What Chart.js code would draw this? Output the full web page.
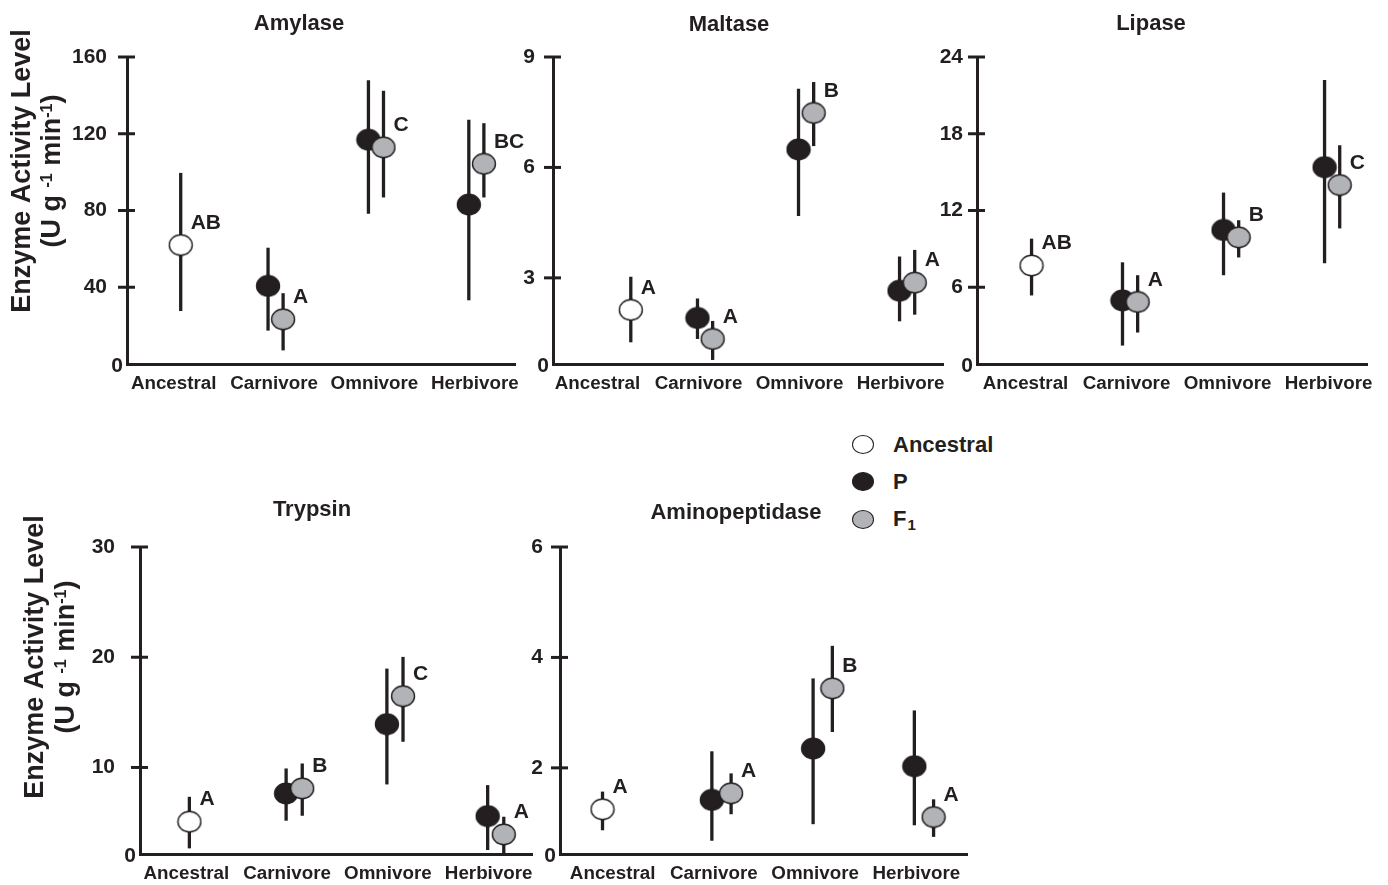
<!DOCTYPE html>
<html>
<head>
<meta charset="utf-8">
<title>Digestive enzyme activity</title>
<script src="https://cdn.jsdelivr.net/npm/chart.js@4.4.1/dist/chart.umd.min.js"></script>
<style>
  body { margin: 0; background: #fff; }
  #page { position: relative; width: 1388px; height: 885px; overflow: hidden;
          font-family: "Liberation Sans", Arial, Helvetica, sans-serif; color: #231f20; }
  #page canvas { position: absolute; }
  .legend { position: absolute; left: 852px; top: 426px; font-weight: bold; font-size: 22px; }
  .legend div { display: flex; align-items: center; height: 37.3px; }
  .dot { display: inline-block; width: 22px; height: 19px; border-radius: 50%; box-sizing: border-box;
         border: 1.5px solid #231f20; margin-right: 19px; }
  .legend sub { font-size: 15px; line-height: 0; position: relative; top: 6px; vertical-align: baseline; margin-left: 1px; }
</style>
</head>
<body>
<div id="page">
  <div class="legend">
    <div><span class="dot" style="background:#ffffff"></span>Ancestral</div>
    <div><span class="dot" style="background:#231f20"></span>P</div>
    <div><span class="dot" style="background:#b1b3b6"></span>F<sub>1</sub></div>
  </div>
</div>
<script>
const groups = ['Ancestral', 'Carnivore', 'Omnivore', 'Herbivore'];

// every row is [mean, bottom of bar, top of bar]; P and F1 rows are Carnivore, Omnivore, Herbivore
const amylaseAncestral = [62.0, 27.6, 99.6];
const amylaseP = [[40.7, 17.4, 60.6], [116.9, 78.3, 147.9], [83.1, 33.2, 127.3]];
const amylaseF1 = [[23.3, 7.1, 36.9], [112.9, 86.8, 142.4], [104.3, 86.8, 125.5]];
const amylaseLetters = ['AB', 'A', 'C', 'BC'];
const amylaseTicks = [0, 40, 80, 120, 160];

const maltaseAncestral = [2.13, 1.25, 3.03];
const maltaseP = [[1.91, 1.34, 2.44], [6.49, 4.68, 8.14], [2.65, 1.82, 3.58]];
const maltaseF1 = [[1.34, 0.77, 1.83], [7.48, 6.58, 8.32], [2.87, 2.0, 3.76]];
const maltaseLetters = ['A', 'A', 'B', 'A'];
const maltaseTicks = [0, 3, 6, 9];

const lipaseAncestral = [7.7, 5.36, 9.8];
const lipaseP = [[4.97, 1.44, 7.95], [10.48, 6.94, 13.4], [15.39, 7.87, 22.2]];
const lipaseF1 = [[4.85, 2.46, 6.94], [9.9, 8.33, 11.24], [13.99, 10.6, 17.1]];
const lipaseLetters = ['AB', 'A', 'B', 'C'];
const lipaseTicks = [0, 6, 12, 18, 24];

const trypsinAncestral = [5.08, 2.66, 7.34];
const trypsinP = [[7.64, 5.17, 9.91], [13.93, 8.46, 18.97], [5.59, 2.51, 8.40]];
const trypsinF1 = [[8.10, 5.62, 10.36], [16.47, 12.33, 20.03], [3.93, 2.15, 5.53]];
const trypsinLetters = ['A', 'B', 'C', 'A'];
const trypsinTicks = [0, 10, 20, 30];

const aminoAncestral = [1.25, 0.87, 1.57];
const aminoP = [[1.42, 0.68, 2.30], [2.35, 0.98, 3.62], [2.03, 0.96, 3.04]];
const aminoF1 = [[1.54, 1.16, 1.90], [3.44, 2.65, 4.21], [1.11, 0.75, 1.43]];
const aminoLetters = ['A', 'A', 'B', 'A'];
const aminoTicks = [0, 2, 4, 6];

const INK = '#231f20';
const GREY = '#b1b3b6';
const FAMILY = '"Liberation Sans", Arial, Helvetica, sans-serif';

Chart.defaults.font.family = FAMILY;
Chart.defaults.color = INK;

// floor: in three of the panels the drawn axis sits a bit above the true zero
// (the last interval is shorter than the others) but is still labelled 0
const panels = [
  { title: 'Amylase', anc: amylaseAncestral, p: amylaseP, f1: amylaseF1, letters: amylaseLetters, ticks: amylaseTicks, floor: 0,
    box: [0, 0, 540, 420], area: [127, 57, 515, 364], xRange: [-0.465, 3.40], dodge: [0.07, -0.06, 0.09],
    tickGap: 20, titleAt: [299, 30], yTitle: [30, 60, 171] },
  { title: 'Maltase', anc: maltaseAncestral, p: maltaseP, f1: maltaseF1, letters: maltaseLetters, ticks: maltaseTicks, floor: 0.66,
    box: [480, 0, 475, 420], area: [553, 57, 943, 364], xRange: [-0.44, 3.42], dodge: [0.33, -0.01, 0.14],
    tickGap: 18, titleAt: [729, 31] },
  { title: 'Lipase', anc: lipaseAncestral, p: lipaseP, f1: lipaseF1, letters: lipaseLetters, ticks: lipaseTicks, floor: 0,
    box: [910, 0, 478, 420], area: [977, 57, 1367, 364], xRange: [-0.48, 3.38], dodge: [0.06, -0.04, 0.11],
    tickGap: 14, titleAt: [1151, 30] },
  { title: 'Trypsin', anc: trypsinAncestral, p: trypsinP, f1: trypsinF1, letters: trypsinLetters, ticks: trypsinTicks, floor: 2.15,
    box: [0, 470, 560, 440], area: [140, 547, 532, 854], xRange: [-0.46, 3.43], dodge: [0.03, -0.01, 0.15],
    tickGap: 25, titleAt: [312, 516], yTitle: [43, 74, 657] },
  { title: 'Aminopeptidase', anc: aminoAncestral, p: aminoP, f1: aminoF1, letters: aminoLetters, ticks: aminoTicks, floor: 0.44,
    box: [490, 470, 500, 440], area: [560, 547, 967, 854], xRange: [-0.52, 3.5], dodge: [-0.10, -0.02, 0.17],
    tickGap: 17, titleAt: [736, 519] },
];

function ellipseMark(fill) {
  const c = document.createElement('canvas');
  c.width = 26; c.height = 23;
  const g = c.getContext('2d');
  g.beginPath();
  g.ellipse(13, 11.5, 11.5, 10.2, 0, 0, Math.PI * 2);
  g.fillStyle = fill;
  g.fill();
  g.lineWidth = 1.4;
  g.strokeStyle = INK;
  g.stroke();
  return c;
}
const markAncestral = ellipseMark('#ffffff');
const markP = ellipseMark(INK);
const markF1 = ellipseMark(GREY);

function toPoints(rows, firstGroup, shift) {
  return rows.map((r, i) => ({ x: firstGroup + i + shift, y: r[0], lo: r[1], hi: r[2] }));
}

function drawYTitle(ctx, base1, base2, cy) {
  ctx.save();
  ctx.translate(base1, cy);
  ctx.rotate(-Math.PI / 2);
  ctx.font = 'bold 27px ' + FAMILY;
  ctx.textAlign = 'center';
  ctx.textBaseline = 'alphabetic';
  ctx.fillText('Enzyme Activity Level', 0, 0);
  ctx.restore();

  // second line with raised "-1"s
  const parts = [['(U g ', false], ['-1', true], [' min', false], ['-1', true], [')', false]];
  const big = 'bold 27px ' + FAMILY, small = 'bold 16px ' + FAMILY;
  let total = 0;
  parts.forEach(([t, sup]) => { ctx.font = sup ? small : big; total += ctx.measureText(t).width; });
  ctx.save();
  ctx.translate(base2, cy);
  ctx.rotate(-Math.PI / 2);
  ctx.textAlign = 'left';
  ctx.textBaseline = 'alphabetic';
  let x = -total / 2;
  parts.forEach(([t, sup]) => {
    ctx.font = sup ? small : big;
    ctx.fillText(t, x, sup ? -8 : 0);
    x += ctx.measureText(t).width;
  });
  ctx.restore();
}

function buildPanel(p) {
  const [bl, bt, bw, bh] = p.box;
  const [al, at, ar, ab] = p.area;
  const canvas = document.createElement('canvas');
  canvas.width = bw;
  canvas.height = bh;
  canvas.style.left = bl + 'px';
  canvas.style.top = bt + 'px';
  document.getElementById('page').appendChild(canvas);

  const yWidth = 60, xHeight = 28;

  const decor = {
    id: 'decor',
    beforeDatasetsDraw(chart) {
      // error bars go under the markers
      const { ctx, scales: { x, y } } = chart;
      ctx.save();
      ctx.strokeStyle = INK;
      ctx.lineWidth = 3.3;
      chart.data.datasets.forEach(ds => ds.data.forEach(d => {
        const px = x.getPixelForValue(d.x);
        ctx.beginPath();
        ctx.moveTo(px, y.getPixelForValue(d.lo));
        ctx.lineTo(px, y.getPixelForValue(d.hi));
        ctx.stroke();
      }));
      ctx.restore();
    },
    afterDraw(chart) {
      const { ctx, chartArea: a, scales: { x, y } } = chart;
      ctx.save();
      ctx.fillStyle = INK;
      ctx.strokeStyle = INK;

      // tick marks cross the axis
      ctx.lineWidth = 3;
      p.ticks.filter(v => v > 0).forEach(v => {
        const py = y.getPixelForValue(v);
        ctx.beginPath();
        ctx.moveTo(a.left - 9, py);
        ctx.lineTo(a.left + 8, py);
        ctx.stroke();
      });

      // the 0 sits tight against the corner
      ctx.font = 'bold 21px ' + FAMILY;
      ctx.textAlign = 'right';
      ctx.textBaseline = 'middle';
      ctx.fillText('0', a.left - 4, a.bottom + 2);

      // significance letters, beside the F1 (or ancestral) marker
      ctx.textAlign = 'left';
      p.letters.forEach((s, i) => {
        const d = i === 0 ? chart.data.datasets[0].data[0] : chart.data.datasets[2].data[i - 1];
        ctx.fillText(s, x.getPixelForValue(d.x) + 10, y.getPixelForValue(d.y) - 22);
      });

      ctx.font = 'bold 22px ' + FAMILY;
      ctx.textAlign = 'center';
      ctx.textBaseline = 'alphabetic';
      ctx.fillText(p.title, p.titleAt[0] - bl, p.titleAt[1] - bt);

      if (p.yTitle) drawYTitle(ctx, p.yTitle[0] - bl, p.yTitle[1] - bl, p.yTitle[2] - bt);
      ctx.restore();
    }
  };

  new Chart(canvas, {
    type: 'scatter',
    data: {
      datasets: [
        { label: 'Ancestral', data: toPoints([p.anc], 0, p.dodge[0]), pointStyle: markAncestral, order: 1, clip: false },
        { label: 'P', data: toPoints(p.p, 1, p.dodge[1]), pointStyle: markP, order: 2, clip: false },
        { label: 'F1', data: toPoints(p.f1, 1, p.dodge[2]), pointStyle: markF1, order: 1, clip: false },
      ]
    },
    options: {
      responsive: false,
      animation: false,
      devicePixelRatio: 1,
      events: [],
      layout: {
        padding: { left: al - bl - yWidth, right: bl + bw - ar, top: at - bt, bottom: bt + bh - ab - xHeight }
      },
      plugins: { legend: { display: false }, tooltip: { enabled: false }, title: { display: false } },
      elements: { point: { radius: 11, hoverRadius: 11 } },
      scales: {
        x: {
          type: 'linear',
          min: p.xRange[0],
          max: p.xRange[1],
          afterBuildTicks: s => { s.ticks = groups.map((g, i) => ({ value: i })); },
          afterFit: s => { s.height = xHeight; },
          grid: { display: false, drawTicks: false },
          border: { color: INK, width: 3 },
          ticks: { callback: v => groups[v], font: { size: 18.8, weight: 'bold' }, padding: 9, maxRotation: 0, autoSkip: false }
        },
        y: {
          min: p.floor,
          max: p.ticks[p.ticks.length - 1],
          afterBuildTicks: s => { s.ticks = p.ticks.filter(v => v > 0).map(v => ({ value: v })); },
          afterFit: s => { s.width = yWidth; },
          grid: { display: false, drawTicks: false },
          border: { color: INK, width: 3 },
          ticks: { font: { size: 21, weight: 'bold' }, padding: p.tickGap }
        }
      }
    },
    plugins: [decor]
  });
}

panels.forEach(buildPanel);
</script>
</body>
</html>
